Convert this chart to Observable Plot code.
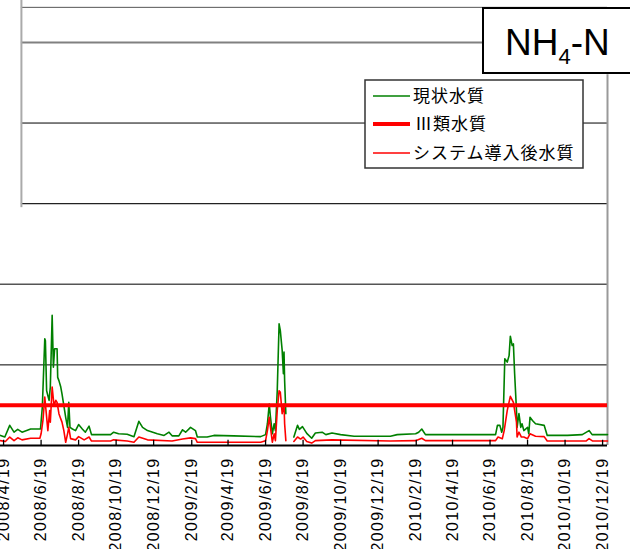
<!DOCTYPE html>
<html><head><meta charset="utf-8">
<script src="https://cdn.jsdelivr.net/npm/d3@7"></script>
<script src="https://cdn.jsdelivr.net/npm/@observablehq/plot@0.6"></script>
<style>
body{margin:0;background:#fff}
#chart{position:relative;width:630px;height:549px;overflow:hidden}
</style>
</head><body><div id="chart"></div>
<script>
// ---- data: days counted from 2008/4/19, values in mg/L ----
const baseDate = "2008-04-19";
const domainStart = "2008-04-14";
const domainEnd = "2010-12-27";
const frameStart = "2008-05-18";
const tickLabels = ["2008/4/19","2008/6/19","2008/8/19","2008/10/19","2008/12/19","2009/2/19","2009/4/19","2009/6/19","2009/8/19","2009/10/19","2009/12/19","2010/2/19","2010/4/19","2010/6/19","2010/8/19","2010/10/19","2010/12/19"];
const seriesNames = ["現状水質","Ⅲ類水質","システム導入後水質"];
const classIII = 1.0;
const gridValues = [2,4,6,8,10];
const frameTop = 10.87;

const greenDays = [-5,2,10,17,23,30,44,60,63,67,68,70,74,76,79,81,83,87,88,90,93,95,98,101,104,106,108,112,117,122,128,133,139,143,158,174,179,187,201,212,220,226,234,250,261,269,274,285,291,296,304,312,315,331,342,374,418,426,429,432,434,437,440,442,445,448,450,453,455,456,457,459,465,472,478,481,486,493,501,507,518,524,534,548,570,629,640,670,675,680,686,716,754,800,803,807,810,812,815,819,822,824,827,829,831,834,835,838,841,843,846,852,854,856,860,865,879,884,917,941,952,957,965,982];
const greenVals = [0.25,0.21,0.50,0.33,0.40,0.33,0.41,0.41,0.95,2.65,2.60,1.36,1.12,1.45,3.23,1.94,2.40,2.40,1.69,1.61,1.45,1.28,0.99,0.70,0.45,1.07,0.45,0.41,0.37,0.52,0.41,0.33,0.48,0.27,0.27,0.27,0.33,0.29,0.28,0.22,0.60,0.45,0.37,0.29,0.25,0.33,0.24,0.24,0.39,0.33,0.45,0.37,0.21,0.21,0.25,0.24,0.22,0.27,0.54,1.03,0.70,0.29,0.54,0.37,1.36,3.02,2.85,2.36,1.78,2.32,1.61,0.79,null,0.21,0.50,0.40,0.47,0.30,0.18,0.31,0.33,0.27,0.31,0.27,0.23,0.23,0.27,0.29,0.33,0.41,0.27,0.27,0.27,0.27,0.50,0.50,0.33,0.45,2.15,2.07,2.23,2.71,2.48,2.52,1.78,0.87,0.45,0.79,0.45,0.54,0.37,0.45,0.29,0.70,0.62,0.54,0.50,0.25,0.25,0.27,0.37,0.27,0.27,0.27];

const redDays = [-5,3,10,17,23,30,44,59,61,64,67,69,72,75,76,79,82,85,87,90,93,95,98,101,104,106,109,117,122,131,139,143,174,179,201,212,220,234,274,291,304,312,315,418,426,429,432,434,437,440,442,445,448,450,453,456,457,459,465,472,478,483,487,493,501,507,534,629,670,680,686,800,804,811,814,819,824,829,834,835,838,842,846,852,856,865,879,884,947,952,958,982];
const redVals = [0.12,0.10,0.21,0.12,0.19,0.14,0.18,0.18,0.29,0.62,1.20,0.87,0.37,0.87,0.58,1.45,0.99,1.12,1.07,0.79,0.66,0.58,0.37,0.08,0.29,0.45,0.17,0.14,0.22,0.14,0.21,0.11,0.11,0.14,0.11,0.08,0.21,0.14,0.11,0.16,0.19,0.17,0.08,0.08,0.12,0.37,0.70,0.45,0.08,0.29,0.12,0.87,1.36,1.32,0.79,1.03,0.54,0.12,null,0.10,0.21,0.16,0.21,0.10,0.06,0.12,0.14,0.11,0.12,0.18,0.12,0.12,0.21,0.17,0.37,0.87,1.22,1.07,0.58,0.21,0.33,0.21,0.21,0.17,0.29,0.23,0.22,0.11,0.11,0.17,0.11,0.11];

// ---- build ----
const base = new Date(baseDate + "T00:00:00Z");
const toDate = d => d3.utcDay.offset(base, d);
const parseTick = s => { const [y,m,d] = s.split("/").map(Number); return new Date(Date.UTC(y, m-1, d)); };
const tickDates = tickLabels.map(parseTick);
const green = greenDays.map((d,i) => ({date: toDate(d), v: greenVals[i]}));
const red = redDays.map((d,i) => ({date: toDate(d), v: redVals[i]}));
const x0 = new Date(domainStart + "T00:00:00Z");
const x1 = new Date(domainEnd + "T00:00:00Z");
const xf = new Date(frameStart + "T00:00:00Z");
const yTop = 11.04;

const chart = Plot.plot({
  width: 630, height: 549,
  marginLeft: 0, marginRight: 23, marginTop: 0, marginBottom: 104,
  style: {fontFamily: "'Liberation Sans', Arial, sans-serif", fontSize: "16px", background: "#fff", color: "#000"},
  x: {type: "utc", domain: [x0, x1], ticks: tickDates, tickFormat: d3.utcFormat("%Y/%-m/%-d"), tickRotate: -90, tickSize: 0, tickPadding: 12, label: null},
  y: {domain: [0, yTop], axis: null},
  marks: [
    Plot.ruleY([gridValues[0]], {stroke: "#000", strokeWidth: 1}),
    Plot.ruleY([gridValues[1]], {stroke: "#555", strokeWidth: 1.5}),
    Plot.ruleY([gridValues[2]], {x1: xf, x2: x1, stroke: "#222", strokeWidth: 1.3}),
    Plot.ruleY([gridValues[3]], {x1: xf, x2: x1, stroke: "#000", strokeWidth: 1}),
    Plot.ruleY([gridValues[4]], {x1: xf, x2: x1, stroke: "#808080", strokeWidth: 2}),
    Plot.ruleY([frameTop], {x1: xf, x2: x1, stroke: "#555", strokeWidth: 1}),
    Plot.ruleX([xf], {y1: 5.9, y2: yTop, stroke: "#aaa", strokeWidth: 2}),
    Plot.ruleX([x1], {y1: 0, y2: 9.2, stroke: "#999", strokeWidth: 2}),
    Plot.line(green, {x: "date", y: "v", stroke: "#008000", strokeWidth: 1.6}),
    Plot.ruleY([classIII], {stroke: "#ff0000", strokeWidth: 4}),
    Plot.line(red, {x: "date", y: "v", stroke: "#ff0000", strokeWidth: 1.6}),
    Plot.ruleY([0], {stroke: "#000", strokeWidth: 2}),
    Plot.ruleX(tickDates, {y1: 0, y2: 0.13, stroke: "#000", strokeWidth: 1.3})
  ]
});

const svg = d3.select(chart);
svg.selectAll("g[aria-label='x-axis tick label'] text").attr("letter-spacing", "1.4px").attr("fill", "#000");

// legend
const lg = svg.append("g").attr("text-anchor", "start");
lg.append("rect").attr("x", 365).attr("y", 80).attr("width", 218).attr("height", 88)
  .attr("fill", "#fff").attr("stroke", "#333").attr("stroke-width", 1.5);
const rows = [
  {name: seriesNames[0], color: "#008000", w: 1.6, y: 96, tx: 413},
  {name: seriesNames[1], color: "#ff0000", w: 4, y: 124, tx: 415},
  {name: seriesNames[2], color: "#ff0000", w: 1.6, y: 153, tx: 413}
];
rows.forEach(r => {
  lg.append("line").attr("x1", 373).attr("x2", 410).attr("y1", r.y).attr("y2", r.y)
    .attr("stroke", r.color).attr("stroke-width", r.w);
  lg.append("text").attr("x", r.tx).attr("y", r.y).attr("dy", "0.36em").attr("text-anchor", "start")
    .attr("font-family", "'Noto Sans CJK JP', sans-serif").attr("font-size", 17)
    .attr("letter-spacing", "1px").attr("fill", "#000").text(r.name);
});

// title box
const tg = svg.append("g").attr("text-anchor", "start");
tg.append("rect").attr("x", 483).attr("y", 8).attr("width", 160).attr("height", 65)
  .attr("fill", "#fff").attr("stroke", "#000").attr("stroke-width", 2);
const tt = tg.append("text").attr("x", 505).attr("y", 55).attr("text-anchor", "start")
  .attr("font-family", "'Liberation Sans', Arial, sans-serif").attr("font-size", 37).attr("fill", "#000");
tt.append("tspan").text("NH");
tt.append("tspan").attr("font-size", 22).attr("dy", 9).text("4");
tt.append("tspan").attr("dy", -9).text("-N");

document.getElementById("chart").appendChild(chart);
</script>
</body></html>
